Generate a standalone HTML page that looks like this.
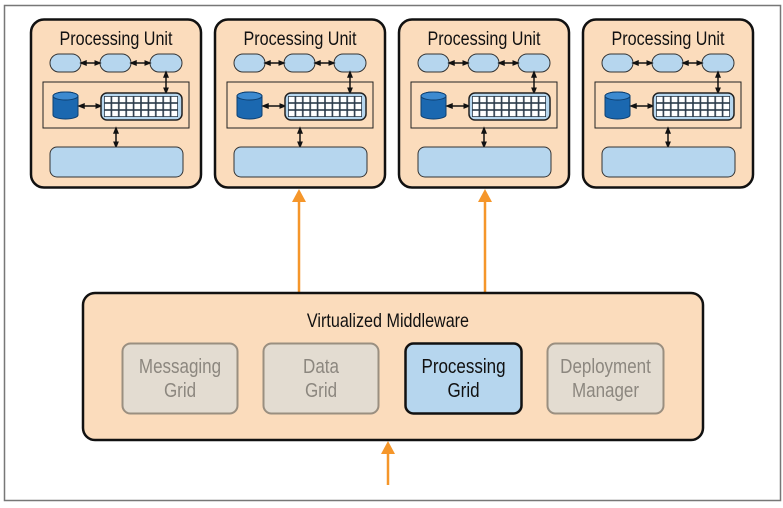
<!DOCTYPE html>
<html><head><meta charset="utf-8"><style>
html,body{margin:0;padding:0;background:#fff;width:783px;height:508px;overflow:hidden}
text{font-family:"Liberation Sans Narrow","Liberation Sans",sans-serif}
</style></head><body>
<svg width="783" height="508" viewBox="0 0 783 508" xmlns="http://www.w3.org/2000/svg">
<defs>
<marker id="a" viewBox="0 0 10 10" refX="5" refY="5" markerWidth="5" markerHeight="5" orient="auto-start-reverse"><path d="M0,1 L10,5 L0,9z" fill="#111"/></marker>
<pattern id="g" x="104" y="96" width="7.4" height="7" patternUnits="userSpaceOnUse"><rect width="7.4" height="7" fill="#2a3a4a"/><rect x="0.8" y="0.8" width="5.8" height="5.4" fill="#fff"/></pattern>
<g id="u">
<rect x="31" y="19.5" width="170" height="168" rx="13" fill="#fbdcbc" stroke="#111" stroke-width="2.5"/>
<text x="116" y="45" font-size="19" text-anchor="middle" fill="#111" transform="translate(116 0) scale(0.85 1) translate(-116 0)">Processing Unit</text>
<rect x="50" y="54" width="31" height="18" rx="9" fill="#b6d6ee" stroke="#333" stroke-width="1"/>
<rect x="100" y="54" width="31" height="18" rx="9" fill="#b6d6ee" stroke="#333" stroke-width="1"/>
<rect x="150" y="54" width="32" height="18" rx="9" fill="#b6d6ee" stroke="#333" stroke-width="1"/>
<line x1="83" y1="63" x2="98" y2="63" stroke="#111" stroke-width="1.5" marker-start="url(#a)" marker-end="url(#a)"/>
<line x1="133" y1="63" x2="148" y2="63" stroke="#111" stroke-width="1.5" marker-start="url(#a)" marker-end="url(#a)"/>
<rect x="43" y="82" width="146" height="46" fill="none" stroke="#222" stroke-width="1"/>
<line x1="166" y1="74" x2="166" y2="91" stroke="#111" stroke-width="1.5" marker-start="url(#a)" marker-end="url(#a)"/>
<path d="M53,96 a12.5,4 0 0 1 25,0 v19 a12.5,4 0 0 1 -25,0z" fill="#1b68b0" stroke="#0d3f70" stroke-width="1"/>
<ellipse cx="65.5" cy="96" rx="12.5" ry="4" fill="#3d8ad0" stroke="#0d3f70" stroke-width="1"/>
<line x1="81" y1="106" x2="99" y2="106" stroke="#111" stroke-width="1.5" marker-start="url(#a)" marker-end="url(#a)"/>
<rect x="101" y="93" width="81" height="27" rx="6" fill="#b6d6ee" stroke="#222" stroke-width="1.5"/>
<rect x="104" y="96" width="74" height="21" fill="url(#g)"/>
<line x1="116" y1="130" x2="116" y2="145" stroke="#111" stroke-width="1.5" marker-start="url(#a)" marker-end="url(#a)"/>
<rect x="50" y="147" width="133" height="30" rx="7" fill="#b6d6ee" stroke="#333" stroke-width="1"/>
</g>
</defs>
<rect x="4.5" y="5.5" width="776" height="495" fill="#fff" stroke="#777" stroke-width="1.5"/>
<use href="#u"/>
<use href="#u" x="184"/>
<use href="#u" x="368"/>
<use href="#u" x="552"/>
<g stroke="#f5962a" stroke-width="2.5" fill="#f5962a">
<line x1="299" y1="200" x2="299" y2="293"/><path d="M292,202 L299,189 L306,202z" stroke="none"/>
<line x1="485" y1="200" x2="485" y2="293"/><path d="M478,202 L485,189 L492,202z" stroke="none"/>
<line x1="388" y1="452" x2="388" y2="485"/><path d="M381,454 L388,441 L395,454z" stroke="none"/>
</g>
<rect x="83" y="293" width="620" height="147" rx="12" fill="#fbdcbc" stroke="#111" stroke-width="2.5"/>
<text x="388" y="327" font-size="19" text-anchor="middle" fill="#111" transform="translate(388 0) scale(0.85 1) translate(-388 0)">Virtualized Middleware</text>
<rect x="122.5" y="343.5" width="115" height="70" rx="8" fill="#e3dcd1" stroke="#9a8f80" stroke-width="2"/>
<rect x="263.5" y="343.5" width="115" height="70" rx="8" fill="#e3dcd1" stroke="#9a8f80" stroke-width="2"/>
<rect x="405.5" y="343.5" width="116" height="70" rx="8" fill="#b6d6ee" stroke="#111" stroke-width="2.5"/>
<rect x="547.5" y="343.5" width="116" height="70" rx="8" fill="#e3dcd1" stroke="#9a8f80" stroke-width="2"/>
<g font-size="20" text-anchor="middle">
<text fill="#8c877f" transform="translate(180 373) scale(0.85 1)">Messaging</text>
<text fill="#8c877f" transform="translate(180 397) scale(0.85 1)">Grid</text>
<text fill="#8c877f" transform="translate(321 373) scale(0.85 1)">Data</text>
<text fill="#8c877f" transform="translate(321 397) scale(0.85 1)">Grid</text>
<text fill="#111" transform="translate(463.5 373) scale(0.85 1)">Processing</text>
<text fill="#111" transform="translate(463.5 397) scale(0.85 1)">Grid</text>
<text fill="#8c877f" transform="translate(605.5 373) scale(0.85 1)">Deployment</text>
<text fill="#8c877f" transform="translate(605.5 397) scale(0.85 1)">Manager</text>
</g>
</svg>
</body></html>
